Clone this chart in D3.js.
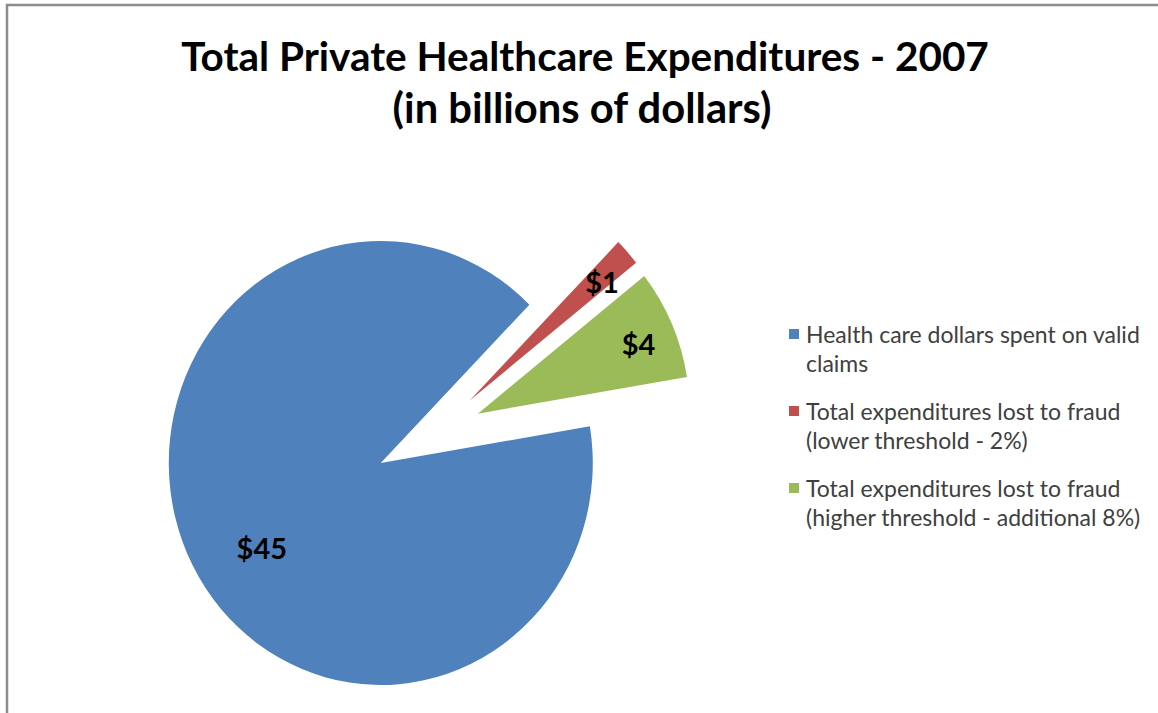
<!DOCTYPE html>
<html>
<head>
<meta charset="utf-8">
<script src="https://cdn.jsdelivr.net/npm/d3@7"></script>
<style>
  body { margin: 0; background: #fff; }
  svg { display: block; font-family: Lato, "Open Sans", sans-serif; }
</style>
</head>
<body>
<svg id="chart" width="1158" height="713"></svg>
<script>
// data
const categories = [
  ['Health care dollars spent on valid', 'claims'],
  ['Total expenditures lost to fraud', '(lower threshold - 2%)'],
  ['Total expenditures lost to fraud', '(higher threshold - additional 8%)']
];
const values = [45, 1, 4];
const valueLabels = ['$45', '$1', '$4'];
const colors = ['#4F81BD', '#C0504D', '#9BBB59'];
const titleLines = ['Total Private Healthcare Expenditures - 2007', '(in billions of dollars)'];

// how far each slice is pulled out of the pie centre (px)
const explodeDist = [60, 48, 48];

const svg = d3.select('#chart');

// frame (only top + left edge visible in the screenshot)
svg.append('path')
  .attr('d', 'M7,713 V5 H1158')
  .attr('fill', 'none')
  .attr('stroke', '#8c8c8c')
  .attr('stroke-width', 2.5);

// helper: pick a font size so a text hits a target width
function fitSize(sel, target) {
  const w = sel.node().getComputedTextLength();
  const fs = parseFloat(sel.attr('font-size'));
  return fs * target / w;
}

// title
const titleG = svg.append('g').attr('class', 'title');
const t1 = titleG.append('text')
  .attr('x', 585).attr('y', 71)
  .attr('text-anchor', 'middle')
  .attr('font-weight', 700)
  .attr('font-size', 40)
  .attr('fill', '#000')
  .text(titleLines[0]);
const titleSize = fitSize(t1, 808);
t1.attr('font-size', titleSize);
titleG.append('text')
  .attr('x', 582).attr('y', 123)
  .attr('text-anchor', 'middle')
  .attr('font-weight', 700)
  .attr('font-size', titleSize * 1.03)
  .attr('fill', '#000')
  .text(titleLines[1]);

// pie
const cx = 434, cy = 434, radius = 212, squash = 1.047;
const startDeg = 80.5;

const pie = d3.pie()
  .sort(null)
  .startAngle(startDeg * Math.PI / 180)
  .endAngle((startDeg + 360) * Math.PI / 180)
  .value(d => d);

const arc = d3.arc().innerRadius(0).outerRadius(radius);
const arcs = pie(values);

const pieG = svg.append('g')
  .attr('transform', `translate(${cx},${cy}) scale(1,${squash})`);

function offset(d, i) {
  const a = (d.startAngle + d.endAngle) / 2;
  return [explodeDist[i] * Math.sin(a), -explodeDist[i] * Math.cos(a)];
}

pieG.selectAll('path.slice')
  .data(arcs)
  .enter()
  .append('path')
  .attr('class', 'slice')
  .attr('d', arc)
  .attr('fill', (d, i) => colors[i])
  .attr('transform', (d, i) => `translate(${offset(d, i)})`);

// data labels (drawn unsquashed so the glyphs keep their shape)
const labelG = svg.append('g').attr('transform', `translate(${cx},${cy})`);
labelG.selectAll('text')
  .data(arcs)
  .enter()
  .append('text')
  .attr('transform', (d, i) => {
    const o = offset(d, i);
    const big = (d.endAngle - d.startAngle) > Math.PI;
    const lr = radius * (big ? 0.68 : 0.82);
    const a = (d.startAngle + d.endAngle) / 2 + (big ? -0.12 : 0.025);
    const x = o[0] + lr * Math.sin(a);
    const y = (o[1] - lr * Math.cos(a)) * squash;
    return `translate(${x},${y})`;
  })
  .attr('text-anchor', 'middle')
  .attr('dy', '0.36em')
  .attr('font-weight', 700)
  .attr('font-size', 29)
  .attr('fill', '#000')
  .text((d, i) => valueLabels[i]);

// legend
const legendG = svg.append('g').attr('transform', 'translate(789,0)');
const probe = legendG.append('text')
  .attr('font-size', 20)
  .text(categories[0][0]);
const legendSize = fitSize(probe, 334);
probe.remove();

const entry = legendG.selectAll('g.entry')
  .data(categories)
  .enter()
  .append('g')
  .attr('class', 'entry')
  .attr('transform', (d, i) => `translate(0,${343 + i * 77})`);

entry.append('rect')
  .attr('x', 0).attr('y', -14)
  .attr('width', 10).attr('height', 10)
  .attr('fill', (d, i) => colors[i]);

entry.append('text')
  .attr('x', 17)
  .attr('font-size', legendSize)
  .attr('fill', '#404040')
  .selectAll('tspan')
  .data(d => d)
  .enter()
  .append('tspan')
  .attr('x', 17)
  .attr('dy', (d, j) => j === 0 ? 0 : 29)
  .text(d => d);
</script>
</body>
</html>
